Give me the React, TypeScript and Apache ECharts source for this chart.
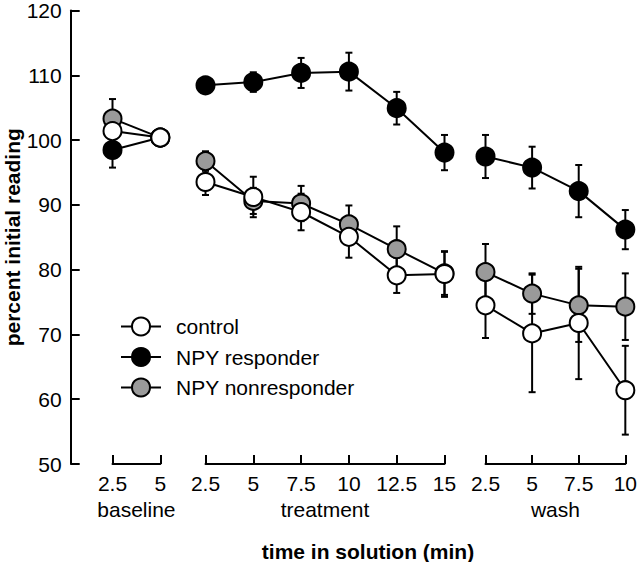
import React, { useEffect, useRef } from "react";
import * as echarts from "echarts";

// x positions (min) in each phase
const baselineX = [2.5, 5];
const treatmentX = [2.5, 5, 7.5, 10, 12.5, 15];
const washX = [2.5, 5, 7.5, 10];

const phaseNames = ["baseline", "treatment", "wash"];
const seriesNames = ["control", "NPY responder", "NPY nonresponder"];

// control
const controlBaseline = [101.0, 100];
const controlBaselineErr = [1.2, 0];
const controlTreatment = [93.2, 90.9, 88.6, 84.8, 78.9, 79.1];
const controlTreatmentErr = [2.0, 3.1, 2.8, 3.2, 2.7, 3.5];
const controlWash = [74.3, 70.0, 71.6, 61.3];
const controlWashErr = [5.0, 9.0, 8.6, 6.8];

// NPY responder
const responderBaseline = [98.1, 100];
const responderBaselineErr = [2.7, 0];
const responderTreatment = [108.0, 108.5, 109.9, 110.1, 104.5, 97.7];
const responderTreatmentErr = [1.0, 1.5, 2.3, 2.9, 2.5, 2.7];
const responderWash = [97.1, 95.4, 91.8, 85.9];
const responderWashErr = [3.3, 3.2, 4.0, 3.0];

// NPY nonresponder
const nonresponderBaseline = [102.9, 100];
const nonresponderBaselineErr = [3.0, 0];
const nonresponderTreatment = [96.4, 90.3, 89.9, 86.7, 82.9, 79.2];
const nonresponderTreatmentErr = [1.5, 2.0, 2.7, 2.9, 3.5, 3.3];
const nonresponderWash = [79.4, 76.1, 74.3, 74.1];
const nonresponderWashErr = [4.3, 3.1, 5.6, 5.1];

const FONT = "Liberation Sans, Arial, Helvetica, sans-serif";

export default function App() {
  const ref = useRef<HTMLDivElement>(null);

  useEffect(() => {
    if (!ref.current) return;
    const chart = echarts.init(ref.current, undefined, { renderer: "svg" });

    const xs = [baselineX, treatmentX, washX];
    const groups = [
      {
        name: seriesNames[1],
        fill: "#000000",
        z: 2,
        vals: [responderBaseline, responderTreatment, responderWash],
        errs: [responderBaselineErr, responderTreatmentErr, responderWashErr],
      },
      {
        name: seriesNames[2],
        fill: "#9a9a9a",
        z: 3,
        vals: [nonresponderBaseline, nonresponderTreatment, nonresponderWash],
        errs: [nonresponderBaselineErr, nonresponderTreatmentErr, nonresponderWashErr],
      },
      {
        name: seriesNames[0],
        fill: "#ffffff",
        z: 4,
        vals: [controlBaseline, controlTreatment, controlWash],
        errs: [controlBaselineErr, controlTreatmentErr, controlWashErr],
      },
    ];

    const scale = 47.8 / 2.5; // px per minute
    const top = 7;
    const bottom = 562 - 464;
    const segLefts = [112.5, 205.5, 485.5];

    const grids: any[] = [
      { left: 70.7, top, bottom, width: 1 },
      ...xs.map((x, i) => ({
        left: segLefts[i],
        top,
        bottom,
        width: (x[x.length - 1] - x[0]) * scale,
      })),
    ];

    const xAxes: any[] = [
      { gridIndex: 0, type: "value", show: false, min: 0, max: 1 },
      ...xs.map((x, i) => ({
        gridIndex: i + 1,
        type: "value",
        min: x[0],
        max: x[x.length - 1],
        interval: 2.5,
        name: phaseNames[i],
        nameLocation: "middle",
        nameGap: 34,
        nameTextStyle: { fontSize: 21, color: "#000", fontFamily: FONT, lineHeight: 21 },
        axisLine: { show: true, onZero: false, lineStyle: { color: "#000", width: 2 } },
        axisTick: { show: true, inside: true, length: 9, lineStyle: { color: "#000", width: 2 } },
        axisLabel: { fontSize: 21, color: "#000", fontFamily: FONT, margin: 9, lineHeight: 21 },
        splitLine: { show: false },
      })),
    ];

    const yAxes: any[] = [
      {
        gridIndex: 0,
        type: "value",
        min: 50,
        max: 120,
        interval: 10,
        name: "percent initial reading",
        nameLocation: "middle",
        nameGap: 48,
        nameTextStyle: { fontSize: 21, fontWeight: "bold", color: "#000", fontFamily: FONT },
        axisLine: { show: true, lineStyle: { color: "#000", width: 2 } },
        axisTick: { show: true, inside: true, length: 9, lineStyle: { color: "#000", width: 2 } },
        axisLabel: { fontSize: 21, color: "#000", fontFamily: FONT, margin: 9 },
        splitLine: { show: false },
      },
      ...xs.map((_, i) => ({
        gridIndex: i + 1,
        type: "value",
        min: 50,
        max: 120,
        show: false,
        splitLine: { show: false },
      })),
    ];

    const series: any[] = [];
    groups.forEach((g) => {
      xs.forEach((x, i) => {
        series.push({
          type: "custom",
          name: g.name + " error " + i,
          xAxisIndex: i + 1,
          yAxisIndex: i + 1,
          z: 1,
          silent: true,
          encode: { x: 0, y: 1 },
          data: x.map((xv, k) => [xv, g.vals[i][k], g.errs[i][k]]),
          renderItem: (params: any, api: any) => {
            const xv = api.value(0);
            const yv = api.value(1);
            const e = api.value(2);
            const t = api.coord([xv, yv + e]);
            const b = api.coord([xv, yv - e]);
            const hw = 3.5;
            const st = { stroke: "#000", lineWidth: 2 };
            return {
              type: "group",
              children: [
                { type: "line", shape: { x1: t[0], y1: t[1], x2: b[0], y2: b[1] }, style: st },
                { type: "line", shape: { x1: t[0] - hw, y1: t[1], x2: t[0] + hw, y2: t[1] }, style: st },
                { type: "line", shape: { x1: b[0] - hw, y1: b[1], x2: b[0] + hw, y2: b[1] }, style: st },
              ],
            };
          },
        });
      });
    });
    groups.forEach((g) => {
      xs.forEach((x, i) => {
        series.push({
          type: "line",
          name: g.name,
          xAxisIndex: i + 1,
          yAxisIndex: i + 1,
          z: g.z,
          data: x.map((xv, k) => [xv, g.vals[i][k]]),
          symbol: "circle",
          symbolSize: 18,
          showAllSymbol: true,
          lineStyle: { color: "#000", width: 2 },
          itemStyle: { color: g.fill, borderColor: "#000", borderWidth: 2 },
          emphasis: { disabled: true },
        });
      });
    });

    chart.setOption({
      animation: false,
      backgroundColor: "#ffffff",
      grid: grids,
      xAxis: xAxes,
      yAxis: yAxes,
      legend: {
        data: seriesNames,
        orient: "vertical",
        left: 115,
        top: 311,
        itemWidth: 40,
        itemHeight: 22.5,
        itemGap: 9.5,
        selectedMode: false,
        textStyle: { fontSize: 21, color: "#000", fontFamily: FONT, padding: [0, 0, 0, 10] },
      },
      graphic: [
        {
          type: "text",
          x: 368,
          y: 551,
          style: {
            text: "time in solution (min)",
            fontSize: 21,
            fontWeight: "bold",
            fontFamily: FONT,
            fill: "#000",
            textAlign: "center",
            textVerticalAlign: "middle",
          },
        },
      ],
      series,
    });

    return () => chart.dispose();
  }, []);

  return (
    <div
      ref={ref}
      style={{ position: "fixed", left: 0, top: 0, width: 640, height: 562, background: "#fff" }}
    />
  );
}
